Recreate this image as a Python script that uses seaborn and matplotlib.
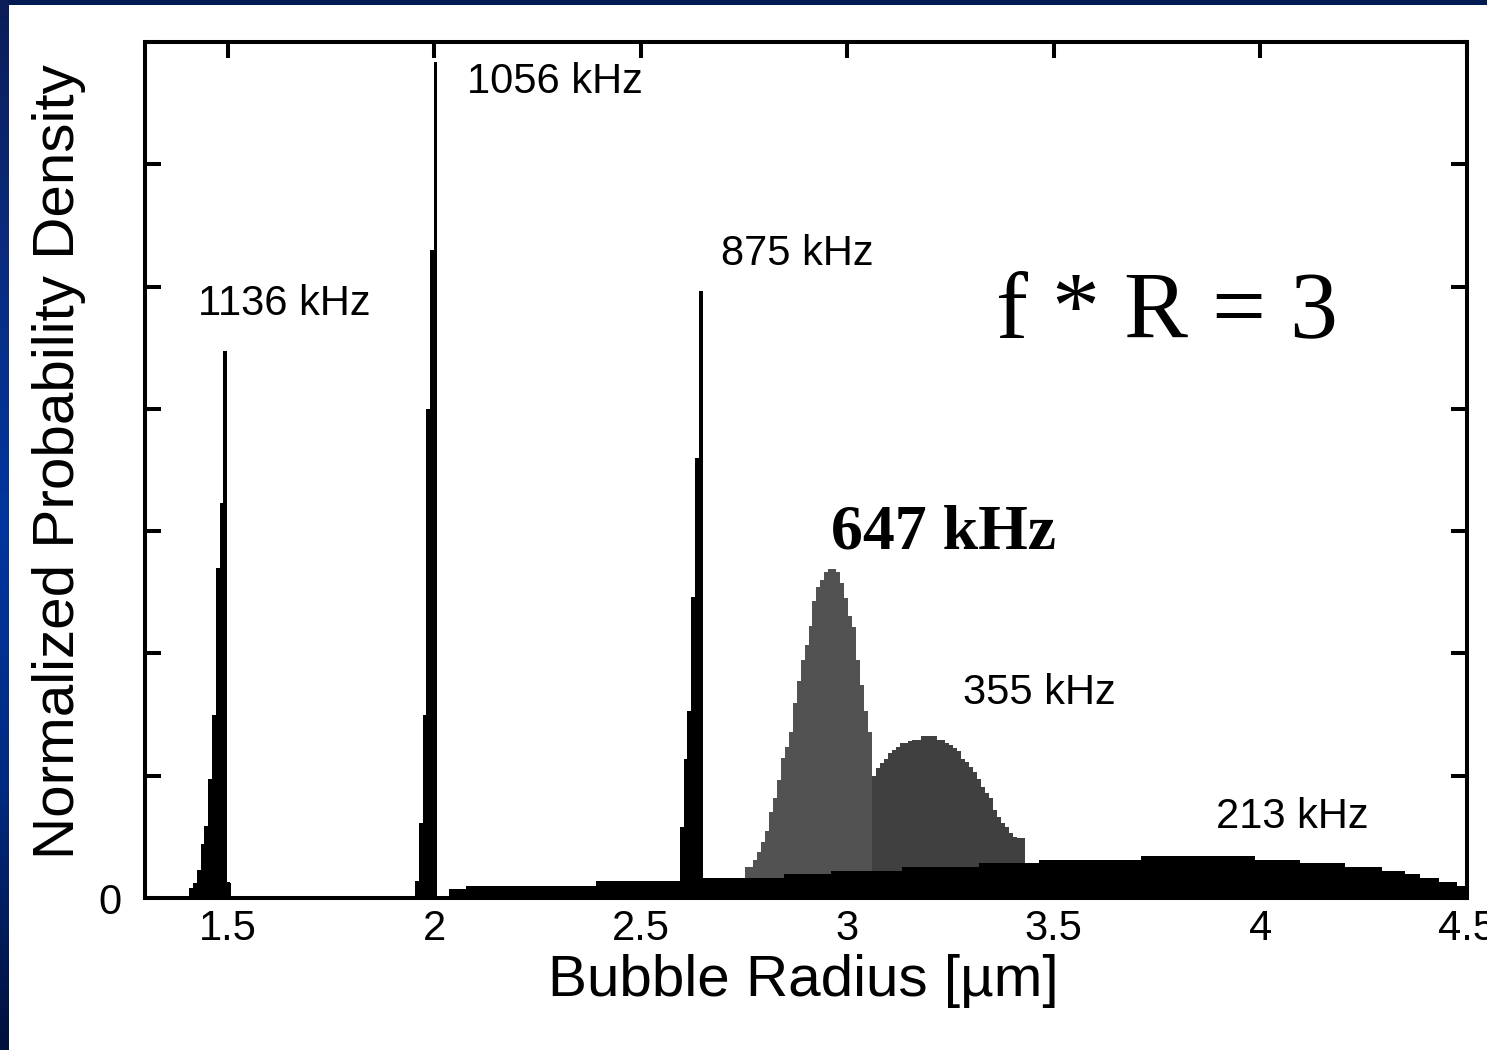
import numpy as np
import pandas as pd
import matplotlib
matplotlib.use("Agg")
import matplotlib.pyplot as plt
import seaborn as sns
from matplotlib.colors import LinearSegmentedColormap

# ---------------- data ----------------
# narrow peaks: start radius, bin width, bin heights
peak_1136_start, peak_1136_width = 1.4067, 0.00925
peak_1136_heights = [0.08, 0.12, 0.23, 0.44, 0.59, 0.97, 1.50, 2.70, 3.23, 4.47, 0.12]

peak_1056_start, peak_1056_width = 1.9545, 0.0089
peak_1056_heights = [0.14, 0.61, 1.50, 4.00, 5.30, 6.84]

peak_875_start, peak_875_width = 2.5945, 0.0093
peak_875_heights = [0.58, 1.14, 1.53, 2.46, 3.60, 4.96]

peak_647_start, peak_647_width = 2.752, 0.00963
peak_647_heights = [0.256, 0.256, 0.31, 0.376, 0.46, 0.548, 0.703, 0.815, 0.967, 1.142,
                    1.232, 1.355, 1.597, 1.774, 1.946, 2.066, 2.224, 2.428, 2.54, 2.60,
                    2.666, 2.69, 2.69, 2.666, 2.578, 2.455, 2.31, 2.216, 1.95, 1.74,
                    1.53, 1.355]

peak_355_start, peak_355_width = 3.060, 0.00977
peak_355_heights = [0.998, 1.06, 1.10, 1.139, 1.188, 1.21, 1.232, 1.27, 1.27, 1.28,
                    1.292, 1.292, 1.325, 1.325, 1.325, 1.325, 1.292, 1.292, 1.27, 1.25,
                    1.23, 1.202, 1.137, 1.11, 1.07, 1.03, 0.97, 0.905, 0.86, 0.815,
                    0.72, 0.665, 0.616, 0.583, 0.529, 0.496, 0.488, 0.488]

# broad 213 kHz distribution: explicit bin edges and heights
peak_213_edges = [2.037, 2.076, 2.391, 2.650, 2.847, 2.961, 3.133, 3.319, 3.465, 3.712,
                  3.986, 4.095, 4.204, 4.294, 4.350, 4.386, 4.432, 4.476, 4.5]
peak_213_heights = [0.07, 0.10, 0.14, 0.166, 0.196, 0.22, 0.256, 0.29, 0.31, 0.34,
                    0.31, 0.29, 0.25, 0.22, 0.196, 0.166, 0.133, 0.098]

x_ticks = [1.5, 2, 2.5, 3, 3.5, 4, 4.5]
x_tick_labels = ["1.5", "2", "2.5", "3", "3.5", "4", "4.5"]
y_ticks = [0, 1, 2, 3, 4, 5, 6, 7]
y_tick_labels = ["0", "", "", "", "", "", "", ""]

labels = ["1136 kHz", "1056 kHz", "875 kHz", "355 kHz", "213 kHz"]
label_x = [1.4285, 2.0806, 2.694, 3.2806, 3.8915]
label_y = [4.767, 6.582, 5.176, 1.586, 0.572]

# ---------------- styling ----------------
sns.set_theme(style="white")
plt.rcParams["font.family"] = ["Liberation Sans", "DejaVu Sans"]
plt.rcParams["text.color"] = "black"
plt.rcParams["axes.labelcolor"] = "black"
plt.rcParams["xtick.color"] = "black"
plt.rcParams["ytick.color"] = "black"

fig = plt.figure(figsize=(14.87, 10.5), dpi=100)
fig.patch.set_facecolor("white")

# blue slide frame (top band and left gradient band)
top_ax = fig.add_axes([0, 1 - 5 / 1050, 1, 5 / 1050])
top_ax.set_facecolor("#001a52")
top_ax.set_xticks([]); top_ax.set_yticks([])
for s in top_ax.spines.values():
    s.set_visible(False)
left_ax = fig.add_axes([0, 0, 9 / 1487, 1])
cmap = LinearSegmentedColormap.from_list(
    "frame", ["#00103c", "#002a80", "#0036a0", "#0a2c80", "#0a1d58"])
left_ax.imshow(np.linspace(0, 1, 256)[::-1].reshape(-1, 1) * np.ones((1, 2)),
               aspect="auto", cmap=cmap, origin="upper")
left_ax.axis("off")

ax = fig.add_axes([145 / 1487, 1 - 898 / 1050, 1322 / 1487, 856 / 1050])
ax.set_facecolor("white")


def uniform_hist(start, width, heights, color, z):
    n = len(heights)
    centers = start + width * (np.arange(n) + 0.5)
    df = pd.DataFrame({"r": centers, "w": heights})
    sns.histplot(data=df, x="r", weights="w", binwidth=width,
                 binrange=(start, start + n * width), element="step",
                 fill=True, color=color, alpha=1, linewidth=0, ax=ax, zorder=z)


uniform_hist(peak_647_start, peak_647_width, peak_647_heights, "#525252", 2)
uniform_hist(peak_355_start, peak_355_width, peak_355_heights, "#404040", 2)

edges213 = np.array(peak_213_edges)
df213 = pd.DataFrame({"r": (edges213[:-1] + edges213[1:]) / 2, "w": peak_213_heights})
try:
    sns.histplot(data=df213, x="r", weights="w", bins=list(peak_213_edges),
                 element="step", fill=True, color="black", alpha=1, linewidth=0,
                 ax=ax, zorder=3)
except Exception:
    ax.stairs(peak_213_heights, peak_213_edges, fill=True, color="black",
              linewidth=0, zorder=3)

uniform_hist(peak_1136_start, peak_1136_width, peak_1136_heights, "black", 3)
uniform_hist(peak_1056_start, peak_1056_width, peak_1056_heights, "black", 3)
uniform_hist(peak_875_start, peak_875_width, peak_875_heights, "black", 3)

ax.set_xlim(1.3, 4.5)
ax.set_ylim(0, 7)
ax.set_xticks(x_ticks)
ax.set_xticklabels(x_tick_labels, fontsize=30)
ax.set_yticks(y_ticks)
ax.set_yticklabels(y_tick_labels, fontsize=30)
ax.tick_params(axis="both", direction="in", length=11.5, width=2.9, color="black",
               labelcolor="black", top=True, right=True, bottom=True, left=True)
ax.tick_params(axis="x", pad=8)
ax.tick_params(axis="y", pad=17)
for s in ax.spines.values():
    s.set_visible(True)
    s.set_linewidth(2.9)
    s.set_color("black")
    s.set_zorder(5)

ax.set_xlabel("Bubble Radius [µm]", fontsize=42, color="black")
ax.set_ylabel("Normalized Probability Density", fontsize=42, color="black")
ax.xaxis.set_label_coords(0.498, -0.066)
ax.yaxis.set_label_coords(-0.045, 0.51)

for t, xx, yy in zip(labels, label_x, label_y):
    ax.text(xx, yy, t, fontsize=30, ha="left", va="baseline", color="black", zorder=6)

ax.text(2.9606, 2.862, "647 kHz", fontsize=46, fontweight="bold", color="black",
        family=["Liberation Serif", "DejaVu Serif"], ha="left", va="baseline", zorder=6)
ax.text(3.3606, 4.587, "f * R = 3", fontsize=69, color="black",
        family=["Liberation Serif", "DejaVu Serif"], ha="left", va="baseline", zorder=6)

fig.savefig("out.png", dpi=100, facecolor="white")
